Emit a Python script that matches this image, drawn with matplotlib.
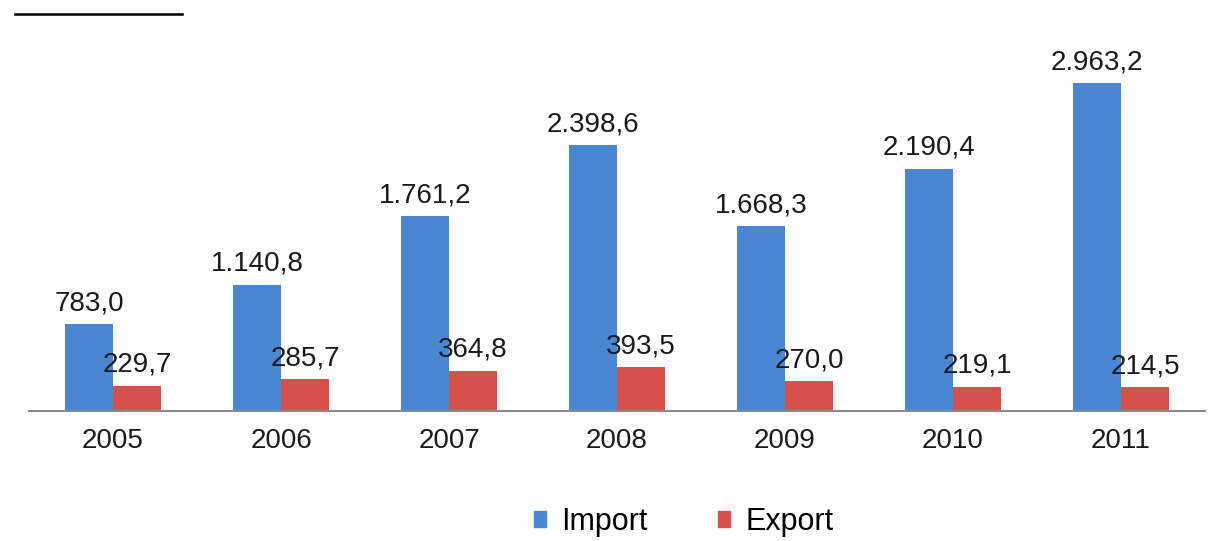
import matplotlib
matplotlib.use("Agg")
import matplotlib.pyplot as plt
from matplotlib.lines import Line2D
from matplotlib.patches import Patch
import numpy as np

plt.rcParams['font.family'] = ['Liberation Sans', 'DejaVu Sans']

years = ["2005", "2006", "2007", "2008", "2009", "2010", "2011"]
imports = [783.0, 1140.8, 1761.2, 2398.6, 1668.3, 2190.4, 2963.2]
exports = [229.7, 285.7, 364.8, 393.5, 270.0, 219.1, 214.5]

import_color = "#4a87d2"
export_color = "#d6514b"
text_color = "#1a1a1a"
fs = 20

def fmt(v):
    s = f"{v:,.1f}"
    return s.replace(",", "X").replace(".", ",").replace("X", ".")

W, H = 1211, 541
fig = plt.figure(figsize=(W / 100, H / 100), dpi=100)
ax = fig.add_axes([29 / W, 1 - 411 / H, (1205 - 29) / W, (411 - 40) / H])

x = np.arange(len(years))
bw = 0.286
b1 = ax.bar(x - bw / 2, imports, bw, color=import_color, label="Import")
b2 = ax.bar(x + bw / 2, exports, bw, color=export_color, label="Export")

for bars, vals in ((b1, imports), (b2, exports)):
    for rect, v in zip(bars, vals):
        ax.annotate(fmt(v), (rect.get_x() + rect.get_width() / 2, v),
                    xytext=(0, 10), textcoords="offset points",
                    ha="center", va="baseline", fontsize=fs, color=text_color)

ax.set_xlim(-0.5, len(years) - 0.5)
ax.set_ylim(0, (411 - 40) / (328 / 2963.2))
ax.set_xticks(x)
ax.set_xticklabels(years, fontsize=fs, color=text_color)
ax.tick_params(axis="x", length=0, pad=12)
ax.set_yticks([])
for side in ["top", "right", "left"]:
    ax.spines[side].set_visible(False)
ax.spines["bottom"].set_color("#8a8a8a")
ax.spines["bottom"].set_linewidth(1.5)

handles = [Patch(color=import_color, label="Import"), Patch(color=export_color, label="Export")]
fig.legend(handles=handles, loc="center", bbox_to_anchor=(684 / W, 1 - 522 / H),
           ncol=2, frameon=False, fontsize=22, handlelength=0.4, handleheight=0.4,
           handletextpad=0.5, columnspacing=2.3)

fig.add_artist(Line2D([15 / W, 182 / W], [1 - 13.5 / H, 1 - 13.5 / H],
                      color="black", linewidth=1.8))

fig.savefig("out.png", dpi=100)
